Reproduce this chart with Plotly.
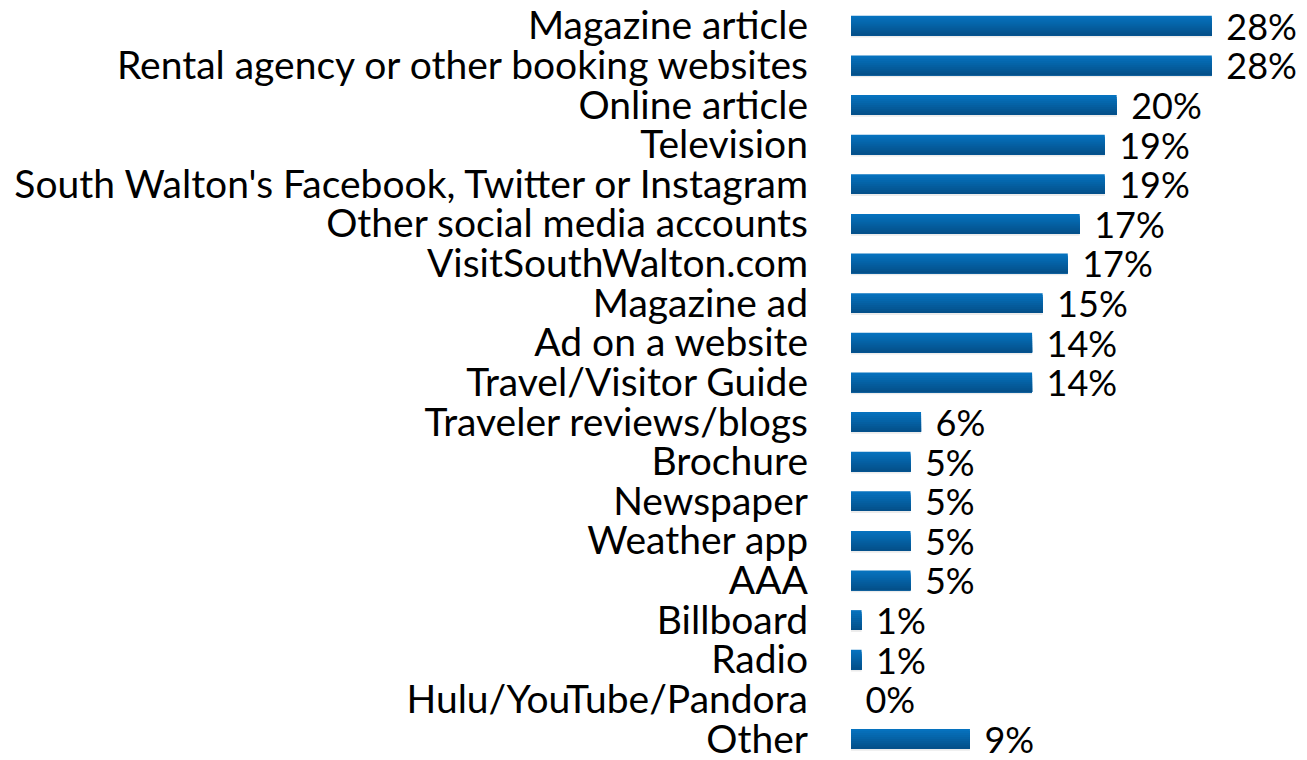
import plotly.graph_objects as go

categories = [
    "Magazine article",
    "Rental agency or other booking websites",
    "Online article",
    "Television",
    "South Walton's Facebook, Twitter or Instagram",
    "Other social media accounts",
    "VisitSouthWalton.com",
    "Magazine ad",
    "Ad on a website",
    "Travel/Visitor Guide",
    "Traveler reviews/blogs",
    "Brochure",
    "Newspaper",
    "Weather app",
    "AAA",
    "Billboard",
    "Radio",
    "Hulu/YouTube/Pandora",
    "Other",
]
values = [27.3, 27.3, 20.1, 19.2, 19.2, 17.3, 16.4, 14.5, 13.7, 13.7,
          5.3, 4.5, 4.5, 4.5, 4.5, 0.8, 0.8, 0.0, 9.0]
labels = ["28%", "28%", "20%", "19%", "19%", "17%", "17%", "15%", "14%", "14%",
          "6%", "5%", "5%", "5%", "5%", "1%", "1%", "0%", "9%"]

FONT = "Lato"
CAT_SIZE = 39
VAL_SIZE = 36

top_rgb = (6, 114, 190)
bot_rgb = (4, 80, 138)
n_strips = 10
bar_w = 0.5

fig = go.Figure()

# soft shadow under each bar
fig.add_trace(go.Bar(
    y=categories, x=values, orientation="h",
    width=0.10, offset=0.20,
    marker=dict(color="rgba(0,0,0,0.08)", line=dict(width=0)),
    hoverinfo="skip",
))

# vertical gradient built from overlapping strips (each reaches the bar bottom)
for i in range(n_strips):
    t = i / (n_strips - 1)
    c = tuple(round(top_rgb[k] + (bot_rgb[k] - top_rgb[k]) * t) for k in range(3))
    w = bar_w / n_strips
    fig.add_trace(go.Bar(
        y=categories, x=values, orientation="h",
        width=bar_w - i * w, offset=-bar_w / 2 + i * w,
        marker=dict(color="rgb(%d,%d,%d)" % c, line=dict(width=0)),
        hoverinfo="skip",
    ))

# transparent carrier for the value labels
fig.add_trace(go.Bar(
    y=categories, x=values, orientation="h",
    width=bar_w,
    marker=dict(color="rgba(0,0,0,0)", line=dict(width=0)),
    text=[" \u200a" + t for t in labels],
    textposition="outside",
    constraintext="none",
    textfont=dict(family=FONT, size=VAL_SIZE, color="#000000"),
    cliponaxis=False,
    hoverinfo="skip",
))

fig.update_layout(
    width=1307,
    height=760,
    margin=dict(l=851, r=0, t=0, b=0),
    paper_bgcolor="white",
    plot_bgcolor="white",
    barmode="overlay",
    showlegend=False,
    xaxis=dict(range=[0, 34.5], visible=False, fixedrange=True),
    yaxis=dict(
        categoryorder="array",
        categoryarray=categories,
        range=[18.305, -0.648],
        tickmode="linear",
        tick0=0,
        dtick=1,
        showgrid=False,
        zeroline=False,
        showline=False,
        ticks="",
        ticklabelstandoff=42,
        tickfont=dict(family=FONT, size=CAT_SIZE, color="#000000"),
        fixedrange=True,
    ),
)

fig.write_html(
    "out.html",
    config={"displayModeBar": False, "staticPlot": True},
    post_script="document.body.style.margin='0';document.body.style.overflow='hidden';",
)
